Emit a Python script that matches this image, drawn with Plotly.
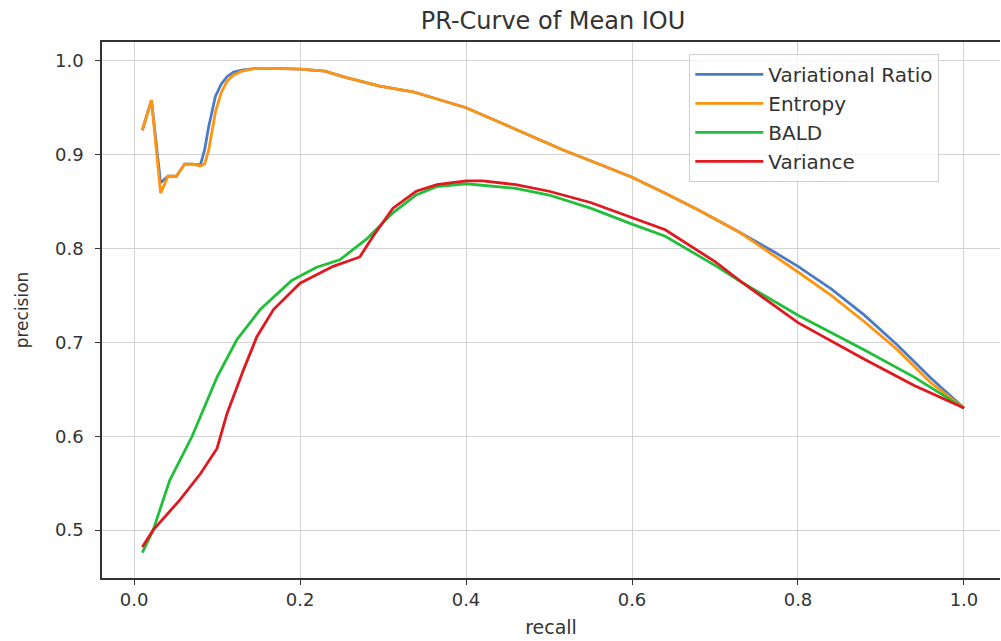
import plotly.graph_objects as go

# --- data ---
vr_recall = [0.01, 0.021, 0.032, 0.041, 0.051, 0.061, 0.07, 0.08, 0.085, 0.09, 0.098, 0.105,
             0.112, 0.12, 0.13, 0.148, 0.17, 0.2, 0.23, 0.256, 0.296, 0.336, 0.4, 0.457,
             0.517, 0.56, 0.6, 0.64, 0.68, 0.73, 0.77, 0.8, 0.84, 0.88, 0.92, 0.96, 1.0]
vr_precision = [0.926, 0.958, 0.870, 0.877, 0.877, 0.890, 0.890, 0.889, 0.905, 0.930, 0.962, 0.975,
                0.983, 0.988, 0.990, 0.992, 0.992, 0.991, 0.989, 0.982, 0.973, 0.967, 0.950, 0.928,
                0.905, 0.890, 0.876, 0.859, 0.841, 0.817, 0.797, 0.781, 0.757, 0.729, 0.697, 0.662, 0.630]

ent_recall = vr_recall
ent_precision = [0.926, 0.958, 0.859, 0.877, 0.877, 0.890, 0.890, 0.888, 0.890, 0.905, 0.945, 0.966,
                 0.978, 0.985, 0.989, 0.992, 0.992, 0.991, 0.989, 0.982, 0.973, 0.967, 0.950, 0.928,
                 0.905, 0.890, 0.876, 0.859, 0.841, 0.817, 0.793, 0.775, 0.750, 0.722, 0.692, 0.657, 0.630]

bald_recall = [0.01, 0.023, 0.043, 0.07, 0.1, 0.124, 0.152, 0.19, 0.22, 0.248, 0.28, 0.312,
               0.34, 0.365, 0.4, 0.46, 0.5, 0.55, 0.6, 0.64, 0.7, 0.734, 0.8, 0.88, 0.94, 1.0]
bald_precision = [0.476, 0.500, 0.553, 0.600, 0.663, 0.703, 0.735, 0.766, 0.780, 0.788, 0.810, 0.838,
                  0.857, 0.866, 0.869, 0.864, 0.857, 0.843, 0.826, 0.813, 0.782, 0.763, 0.729, 0.692, 0.663, 0.630]

var_recall = [0.01, 0.023, 0.055, 0.08, 0.1, 0.112, 0.132, 0.148, 0.168, 0.2, 0.24, 0.272,
              0.288, 0.312, 0.34, 0.365, 0.4, 0.42, 0.46, 0.5, 0.55, 0.6, 0.64, 0.7, 0.734,
              0.8, 0.88, 0.94, 1.0]
var_precision = [0.482, 0.500, 0.532, 0.560, 0.587, 0.624, 0.671, 0.706, 0.735, 0.763, 0.781, 0.791,
                 0.813, 0.843, 0.861, 0.868, 0.872, 0.872, 0.868, 0.861, 0.849, 0.833, 0.820, 0.786, 0.763,
                 0.721, 0.682, 0.654, 0.630]

series = [
    ("Variational Ratio", vr_recall, vr_precision, "#4a7cc6"),
    ("Entropy", ent_recall, ent_precision, "#ff9410"),
    ("BALD", bald_recall, bald_precision, "#1fbf3a"),
    ("Variance", var_recall, var_precision, "#e01820"),
]

x_ticks = [0.0, 0.2, 0.4, 0.6, 0.8, 1.0]
y_ticks = [0.5, 0.6, 0.7, 0.8, 0.9, 1.0]

FONT = "DejaVu Sans"
TXT = "#333333"

fig = go.Figure()
for name, xs, ys, col in series:
    fig.add_trace(go.Scatter(x=xs, y=ys, mode="lines", name=name,
                             line=dict(color=col, width=2.8)))

fig.update_layout(
    width=1001, height=641,
    margin=dict(l=102, r=1, t=42, b=63, autoexpand=False),
    paper_bgcolor="white", plot_bgcolor="white",
    font=dict(family=FONT, color=TXT, size=17),
    title=dict(text="PR-Curve of Mean IOU", x=553/1001, xanchor="center",
               y=1 - 21/641, yanchor="middle", yref="container",
               font=dict(size=24, family=FONT, color=TXT)),
    legend=dict(x=0.654, y=0.978, xanchor="left", yanchor="top",
                bgcolor="rgba(255,255,255,0.8)", bordercolor="#d0d0d0", borderwidth=1,
                itemwidth=68,
                font=dict(size=20, family=FONT, color=TXT)),
    showlegend=True,
)

fig.update_xaxes(range=[-0.0386, 1.0434], tickvals=x_ticks,
                 ticktext=[f"{v:.1f}" for v in x_ticks], automargin=False,
                 showgrid=True, gridcolor="#d3d3d3", gridwidth=1,
                 showline=True, linecolor="#333333", linewidth=1.6, mirror=True,
                 ticks="outside", ticklen=5, tickcolor="#333333",
                 zeroline=False, tickfont=dict(size=18),
                 title=dict(text="recall", standoff=11, font=dict(size=19)))
fig.update_yaxes(range=[0.449, 1.020], tickvals=y_ticks,
                 ticktext=[f"{v:.1f}" for v in y_ticks], automargin=False,
                 showgrid=True, gridcolor="#d3d3d3", gridwidth=1,
                 showline=True, linecolor="#333333", linewidth=1.6, mirror=False,
                 ticks="outside", ticklen=5, tickcolor="#333333",
                 zeroline=False, tickfont=dict(size=18), ticklabelstandoff=8,
                 title=dict(text="precision", standoff=22, font=dict(size=17)))

fig.write_html("out.html", config={"displayModeBar": False},
               post_script="document.body.style.margin='0';document.body.style.overflow='hidden';")
